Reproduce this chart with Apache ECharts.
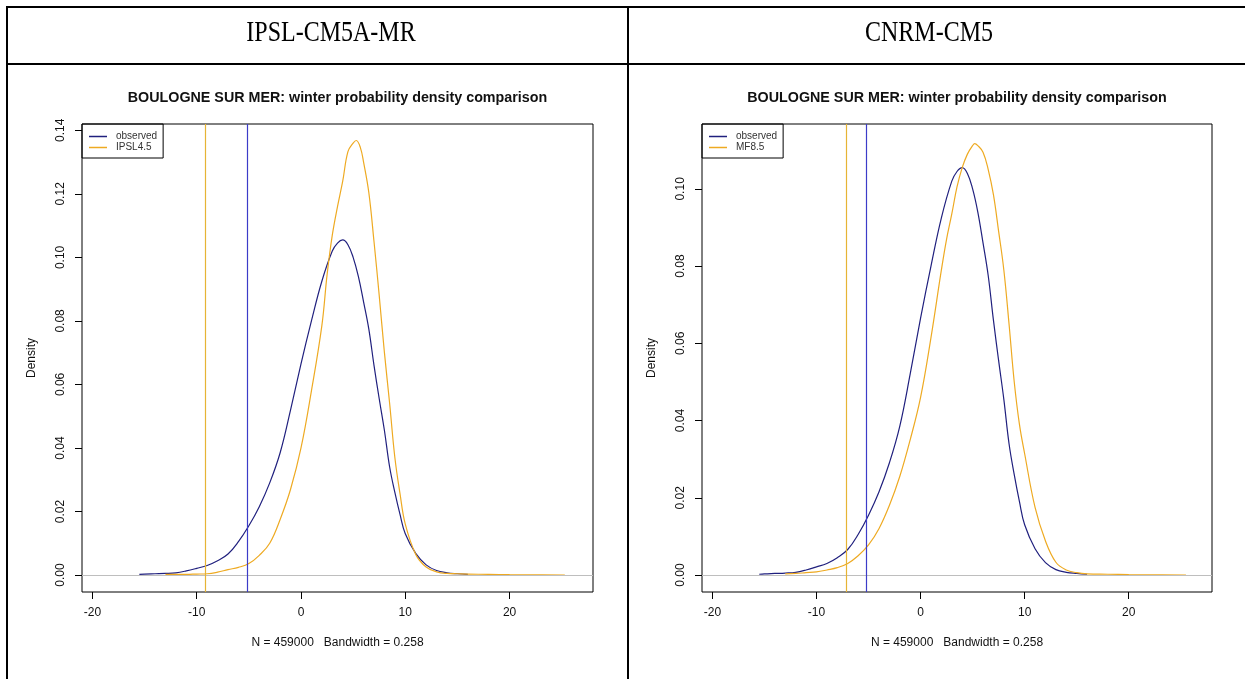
<!DOCTYPE html>
<html>
<head>
<meta charset="utf-8">
<script src="https://cdn.jsdelivr.net/npm/echarts@6/dist/echarts.min.js"></script>
<style>
html,body{margin:0;padding:0;background:#fff;}
#c{width:1245px;height:679px;}
</style>
</head>
<body>
<div id="c"></div>
<script>
// ---- data ----
const headerLabels = ['IPSL-CM5A-MR', 'CNRM-CM5'];
const plotTitle = 'BOULOGNE SUR MER: winter probability density comparison';
const subLabel = 'N = 459000   Bandwidth = 0.258';
const yLabel = 'Density';
const legendLeft = ['observed', 'IPSL4.5'];
const legendRight = ['observed', 'MF8.5'];

const xTicks = [-20, -10, 0, 10, 20];
const yTicksLeft = [0, 0.02, 0.04, 0.06, 0.08, 0.10, 0.12, 0.14];
const yTicksRight = [0, 0.02, 0.04, 0.06, 0.08, 0.10];

const obsX = [-15.5,-15,-14,-13,-12,-11,-10,-9,-8,-7,-6,-5,-4,-3,-2,-1,0,1,2,3,3.5,4,4.5,5,5.5,6,6.5,7,7.5,8,8.5,9,9.5,10,11,12,13,14,15,16];
const obsY = [0.0002,0.0003,0.0004,0.0005,0.0007,0.0013,0.0021,0.0030,0.0045,0.0066,0.0105,0.0155,0.0215,0.0290,0.0385,0.0520,0.0665,0.0800,0.0925,0.1020,0.1045,0.1055,0.1040,0.1000,0.0940,0.0860,0.0775,0.0660,0.0555,0.0455,0.0340,0.0260,0.0190,0.0130,0.0068,0.0032,0.0014,0.0007,0.0004,0.0002];

const ipslX = [-13,-12,-11,-10,-9,-8,-7,-6,-5,-4,-3,-2,-1,0,1,2,2.5,3,3.5,4,4.5,5,5.3,5.7,6,6.5,7,7.5,8,8.5,9,9.5,10,11,12,13,14,15,16,18,20,22,25.3];
const ipslY = [0.0002,0.0002,0.0002,0.0003,0.0004,0.0009,0.0017,0.0024,0.0036,0.0062,0.0100,0.0175,0.0270,0.0400,0.0580,0.0785,0.0945,0.1070,0.1160,0.1240,0.1333,0.1360,0.1368,0.1345,0.1300,0.1205,0.1050,0.0880,0.0700,0.0540,0.0370,0.0255,0.0160,0.0065,0.0025,0.0010,0.0005,0.0004,0.0003,0.0002,0.0001,0.00005,0];

const mfX = [-13,-12,-11,-10,-9,-8,-7,-6,-5,-4,-3,-2,-1,0,1,2,2.5,3,3.5,4,4.5,5,5.2,5.5,6,6.5,7,7.5,8,8.5,9,9.5,10,11,12,13,14,15,16,18,20,22,25.5];
const mfY = [0.0003,0.0004,0.0006,0.0008,0.0013,0.0019,0.0030,0.0050,0.0078,0.0120,0.0180,0.0255,0.0350,0.0460,0.0615,0.0790,0.0870,0.0935,0.1005,0.1055,0.1090,0.1112,0.1117,0.1112,0.1095,0.1050,0.0985,0.0890,0.0790,0.0650,0.0500,0.0390,0.0314,0.0175,0.0088,0.0033,0.0013,0.0006,0.0003,0.0002,0.0001,0.00005,0];

const obsVLine = -5.2;
const ipslVLine = -9.2;
const mfVLine = -7.1;

// ---- styles ----
const BLUE = '#20207e', BLUE_V = '#3c3cc8', ORANGE = '#eeaa22', ORANGE_V = '#e6b435', GRAY = '#bebebe';
const SANS = 'Liberation Sans, Arial, sans-serif';
const SERIF = 'Liberation Serif, Times New Roman, serif';
const zip = (xs, ys) => xs.map((x, i) => [x, ys[i]]);

const chart = echarts.init(document.getElementById('c'), null, {renderer: 'canvas'});

function xAxisCfg(gi) {
  return {
    type: 'value', gridIndex: gi, min: -21.0, max: 28.0,
    axisLine: {show: false, onZero: false},
    splitLine: {show: false},
    axisTick: {show: true, length: 7, inside: false, customValues: xTicks, lineStyle: {color: '#000', width: 1}},
    axisLabel: {customValues: xTicks, margin: 15, fontSize: 12, fontFamily: SANS, color: '#111'},
    name: subLabel, nameLocation: 'middle', nameGap: 45,
    nameTextStyle: {fontSize: 12, fontFamily: SANS, color: '#111'}
  };
}
function yAxisCfg(gi, min, max, ticks) {
  return {
    type: 'value', gridIndex: gi, min: min, max: max,
    axisLine: {show: false, onZero: false},
    splitLine: {show: false},
    axisTick: {show: true, length: 7, inside: false, customValues: ticks, lineStyle: {color: '#000', width: 1}},
    axisLabel: {customValues: ticks, rotate: 90, margin: 15, fontSize: 12, fontFamily: SANS, color: '#111',
      formatter: v => v.toFixed(2)},
    name: yLabel, nameLocation: 'middle', nameRotate: 90, nameGap: 44,
    nameTextStyle: {fontSize: 12, fontFamily: SANS, color: '#111'}
  };
}
function curve(name, xs, ys, color, gi, marks) {
  return {
    type: 'line', name: name, xAxisIndex: gi, yAxisIndex: gi,
    data: zip(xs, ys), showSymbol: false, symbol: 'none',
    smooth: 0.4,
    color: color, lineStyle: {color: color, width: 1.2},
    markLine: {silent: true, symbol: ['none', 'none'], label: {show: false}, animation: false, data: marks},
    z: 3
  };
}
function legendCfg(left, names) {
  return {
    left: left, top: 124, orient: 'vertical', data: names,
    icon: 'rect', itemWidth: 18, itemHeight: 1.5, itemGap: 0,
    padding: [7, 6, 5, 7],
    borderColor: '#000', borderWidth: 1, borderRadius: 0,
    selectedMode: false,
    textStyle: {fontSize: 10, fontFamily: SANS, color: '#333', lineHeight: 11, padding: [0, 0, 0, 4]}
  };
}
function headerText(x, txt) {
  return {type: 'text', x: x, y: 33, scaleX: 1, scaleY: 1.22, silent: true,
    style: {text: txt, fill: '#000', font: '24px ' + SERIF, textAlign: 'center', textVerticalAlign: 'middle'}};
}

const lineStyleV = c => ({color: c, width: 1.2, type: 'solid'});

chart.setOption({
  animation: false,
  backgroundColor: '#fff',
  title: [
    {text: plotTitle, left: 337.5, top: 91, textAlign: 'center', padding: 0,
      textStyle: {fontFamily: SANS, fontSize: 14.3, fontWeight: 'bold', color: '#111'}},
    {text: plotTitle, left: 957, top: 91, textAlign: 'center', padding: 0,
      textStyle: {fontFamily: SANS, fontSize: 14.3, fontWeight: 'bold', color: '#111'}}
  ],
  legend: [legendCfg(82, legendLeft), legendCfg(702, legendRight)],
  grid: [
    {left: 82, top: 124, width: 511, height: 468, show: true, borderColor: '#000', borderWidth: 1, backgroundColor: 'transparent'},
    {left: 702, top: 124, width: 510, height: 468, show: true, borderColor: '#000', borderWidth: 1, backgroundColor: 'transparent'}
  ],
  xAxis: [xAxisCfg(0), xAxisCfg(1)],
  yAxis: [
    yAxisCfg(0, -0.00535, 0.1420, yTicksLeft),
    yAxisCfg(1, -0.0044, 0.1168, yTicksRight)
  ],
  series: [
    curve('observed', obsX, obsY, BLUE, 0, [
      {yAxis: 0, lineStyle: lineStyleV(GRAY)},
      {xAxis: obsVLine, lineStyle: lineStyleV(BLUE_V)}
    ]),
    curve('IPSL4.5', ipslX, ipslY, ORANGE, 0, [
      {xAxis: ipslVLine, lineStyle: lineStyleV(ORANGE_V)}
    ]),
    curve('observed', obsX, obsY, BLUE, 1, [
      {yAxis: 0, lineStyle: lineStyleV(GRAY)},
      {xAxis: obsVLine, lineStyle: lineStyleV(BLUE_V)}
    ]),
    curve('MF8.5', mfX, mfY, ORANGE, 1, [
      {xAxis: mfVLine, lineStyle: lineStyleV(ORANGE_V)}
    ])
  ],
  graphic: [
    headerText(331, headerLabels[0]),
    headerText(929, headerLabels[1]),
    {type: 'line', shape: {x1: 6, y1: 7, x2: 1245, y2: 7}, style: {stroke: '#000', lineWidth: 2}, silent: true},
    {type: 'line', shape: {x1: 6, y1: 64, x2: 1245, y2: 64}, style: {stroke: '#000', lineWidth: 2}, silent: true},
    {type: 'line', shape: {x1: 7, y1: 6, x2: 7, y2: 679}, style: {stroke: '#000', lineWidth: 2}, silent: true},
    {type: 'line', shape: {x1: 628, y1: 6, x2: 628, y2: 679}, style: {stroke: '#000', lineWidth: 2}, silent: true}
  ]
});
</script>
</body>
</html>
